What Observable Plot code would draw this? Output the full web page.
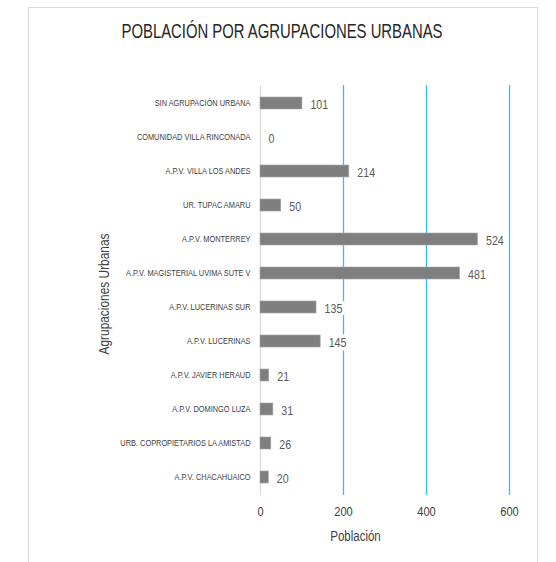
<!DOCTYPE html>
<html>
<head>
<meta charset="utf-8">
<script src="https://cdn.jsdelivr.net/npm/d3@7"></script>
<script src="https://cdn.jsdelivr.net/npm/@observablehq/plot@0.6"></script>
<style>
  html, body { margin: 0; padding: 0; background: #fff; }
  #wrap { position: relative; width: 556px; height: 562px; overflow: hidden; }
  #frame { position: absolute; left: 28px; top: 7px; width: 510px; height: 600px; border: 1px solid #d9d9d9; box-sizing: border-box; }
  #chart { position: absolute; left: 0; top: 0; }
</style>
</head>
<body>
<div id="wrap"><div id="frame"></div><div id="chart"></div></div>
<script>
const title = "POBLACIÓN POR AGRUPACIONES URBANAS";
const xLabel = "Población";
const yLabel = "Agrupaciones Urbanas";
const categories = [
  "SIN AGRUPACIÓN URBANA",
  "COMUNIDAD VILLA RINCONADA",
  "A.P.V. VILLA LOS ANDES",
  "UR. TUPAC AMARU",
  "A.P.V. MONTERREY",
  "A.P.V. MAGISTERIAL UVIMA SUTE V",
  "A.P.V. LUCERINAS SUR",
  "A.P.V. LUCERINAS",
  "A.P.V. JAVIER HERAUD",
  "A.P.V. DOMINGO LUZA",
  "URB. COPROPIETARIOS LA AMISTAD",
  "A.P.V. CHACAHUAICO"
];
const values = [101, 0, 214, 50, 524, 481, 135, 145, 21, 31, 26, 20];
const xTicks = [0, 200, 400, 600];
const gridTicks = [200, 400, 600];

const data = categories.map((c, i) => ({category: c, value: values[i]}));
const font = "'Liberation Sans', Arial, sans-serif";

const chart = Plot.plot({
  width: 556,
  height: 562,
  marginLeft: 260,
  marginRight: 47,
  marginTop: 85,
  marginBottom: 67,
  style: {fontFamily: font, background: "transparent", overflow: "visible"},
  x: {domain: [0, 600], ticks: xTicks, label: null},
  y: {domain: categories, label: null, padding: 0.65, paddingOuter: 0.3},
  marks: [
    Plot.ruleX(gridTicks, {stroke: "#35bff0", strokeWidth: 1.3}),
    Plot.ruleX([0], {stroke: "#d9d9d9", strokeWidth: 1.2}),
    Plot.barX(data, {x: "value", y: "category", fill: "#7f7f7f", stroke: "#a6a6a6", strokeWidth: 0.6}),
    Plot.text(data, {x: "value", y: "category", text: d => String(d.value), textAnchor: "start", dx: 8, dy: 1,
      fill: "#595959", stroke: "white", strokeWidth: 7, fontSize: 13}),
    Plot.axisX({ticks: xTicks, tickSize: 0, tickPadding: 11, fontSize: 13.5, color: "#404040", label: null}),
    Plot.axisY({tickSize: 0, tickPadding: 10, fontSize: 9, color: "#404040", label: null})
  ]
});

document.getElementById("chart").appendChild(chart);

const svg = d3.select(chart);

svg.append("text")
  .attr("class", "ylab")
  .attr("transform", "translate(109,294) rotate(-90)")
  .attr("text-anchor", "middle")
  .attr("font-family", font)
  .attr("font-size", 14.5)
  .attr("fill", "#404040")
  .text(yLabel);

svg.append("text")
  .attr("x", 355.5).attr("y", 540.5)
  .attr("text-anchor", "middle")
  .attr("font-family", font)
  .attr("font-size", 14)
  .attr("fill", "#404040")
  .text(xLabel);

// condense all text to emulate a narrow typeface
svg.selectAll("text").each(function() {
  const len = this.getComputedTextLength();
  if (len > 0) {
    this.setAttribute("textLength", (len * 0.82).toFixed(2));
    this.setAttribute("lengthAdjust", "spacingAndGlyphs");
  }
});

svg.append("text")
  .attr("x", 282).attr("y", 37.5)
  .attr("text-anchor", "middle")
  .attr("font-family", font)
  .attr("font-size", 21)
  .attr("fill", "#262626")
  .attr("textLength", 321)
  .attr("lengthAdjust", "spacingAndGlyphs")
  .text(title);
</script>
</body>
</html>
